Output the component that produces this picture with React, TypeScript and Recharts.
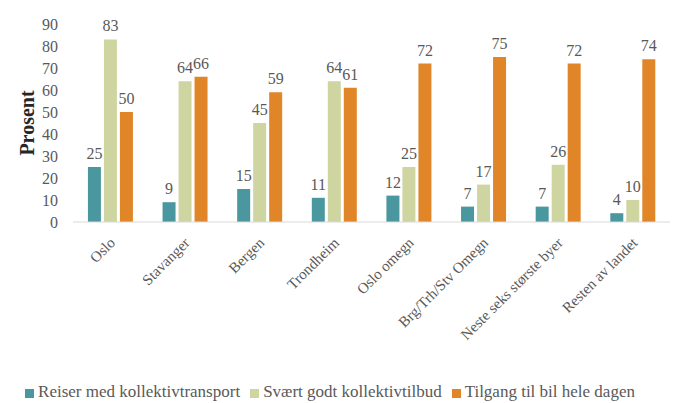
import React from "react";
import { BarChart, Bar, XAxis, YAxis, Legend, LabelList, Label } from "recharts";

const categories = [
  "Oslo",
  "Stavanger",
  "Bergen",
  "Trondheim",
  "Oslo omegn",
  "Brg/Trh/Stv Omegn",
  "Neste seks største byer",
  "Resten av landet",
];
const reiser = [25, 9, 15, 11, 12, 7, 7, 4];
const tilbud = [83, 64, 45, 64, 25, 17, 26, 10];
const bil = [50, 66, 59, 61, 72, 75, 72, 74];
const yTicks = [0, 10, 20, 30, 40, 50, 60, 70, 80, 90];

const FONT = "Liberation Serif";
const GRAY = "#595959";

const data = categories.map((name, i) => ({
  name,
  reiser: reiser[i],
  tilbud: tilbud[i],
  bil: bil[i],
}));

const XTick = (props: any) => {
  const { x, y, payload } = props;
  return (
    <g transform={`translate(${x + 2},${y + 10}) rotate(-45)`}>
      <text
        x={0}
        y={0}
        dy="0.35em"
        textAnchor="end"
        fill={GRAY}
        fontSize={15}
        fontFamily={FONT}
      >
        {payload.value}
      </text>
    </g>
  );
};

export default function App() {
  return (
    <div style={{ position: "absolute", left: 0, top: 0, background: "#fff", fontFamily: FONT }}>
      <style>{`.recharts-wrapper, .recharts-wrapper * { font-family: 'Liberation Serif', serif !important; }`}</style>
      <BarChart
        width={675}
        height={403}
        data={data}
        margin={{ top: 24, right: 5, bottom: 1, left: 0 }}
        barCategoryGap="20%"
        barGap={3}
        style={{ fontFamily: FONT }}
      >
        <XAxis
          dataKey="name"
          interval={0}
          tickLine={false}
          axisLine={{ stroke: "#d9d9d9" }}
          height={160}
          tick={<XTick />}
        />
        <YAxis
          domain={[0, 90]}
          ticks={yTicks}
          interval={0}
          width={73}
          axisLine={false}
          tickLine={false}
          tickSize={0}
          tickMargin={15}
          fontSize={16}
          tick={{ fill: GRAY, fontSize: 16 }}
        >
          <Label
            value="Prosent"
            angle={-90}
            position="insideLeft"
            offset={27}
            fontSize={20}
            fontWeight="bold"
            fill="#262626"
            style={{ textAnchor: "middle" }}
          />
        </YAxis>
        <Legend
          iconType="square"
          iconSize={9}
          wrapperStyle={{ fontSize: 17 }}
          formatter={(v: string) => <span style={{ color: GRAY }}>{v}</span>}
        />
        <Bar dataKey="reiser" name="Reiser med kollektivtransport" fill="#4a979f" isAnimationActive={false}>
          <LabelList dataKey="reiser" position="top" offset={8} fill={GRAY} fontSize={16} />
        </Bar>
        <Bar dataKey="tilbud" name="Svært godt kollektivtilbud" fill="#cfd5a0" isAnimationActive={false}>
          <LabelList dataKey="tilbud" position="top" offset={8} fill={GRAY} fontSize={16} />
        </Bar>
        <Bar dataKey="bil" name="Tilgang til bil hele dagen" fill="#e08628" isAnimationActive={false}>
          <LabelList dataKey="bil" position="top" offset={8} fill={GRAY} fontSize={16} />
        </Bar>
      </BarChart>
    </div>
  );
}
